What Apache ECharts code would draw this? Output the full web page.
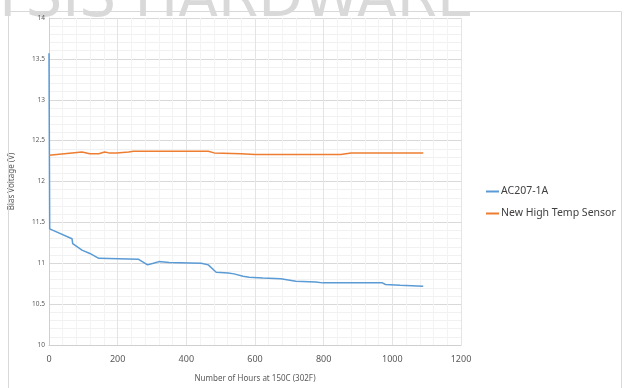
<!DOCTYPE html>
<html><head><meta charset="utf-8">
<script src="https://cdn.jsdelivr.net/npm/echarts@6/dist/echarts.min.js"></script>
<style>html,body{margin:0;padding:0;background:#fff}#c{width:624px;height:388px}</style>
</head><body><div id="c"></div>
<script>
const xTicks = [0, 200, 400, 600, 800, 1000, 1200];
const yTicks = [10, 10.5, 11, 11.5, 12, 12.5, 13, 13.5, 14];
const seriesNames = ['AC207-1A', 'New High Temp Sensor'];
const acHours = [0, 2, 67, 69, 96, 119, 145, 260, 287, 304, 320, 350, 443, 464, 487, 522, 539, 565, 583, 623, 675, 719, 777, 797, 971, 980, 1023, 1090];
const acVolts = [13.57, 11.42, 11.30, 11.24, 11.16, 11.12, 11.06, 11.05, 10.98, 11.00, 11.02, 11.01, 11.00, 10.98, 10.89, 10.88, 10.87, 10.84, 10.83, 10.82, 10.81, 10.78, 10.77, 10.76, 10.76, 10.74, 10.73, 10.72];
const htHours = [0, 2, 67, 96, 119, 145, 162, 174, 197, 232, 246, 464, 481, 559, 600, 850, 880, 1090];
const htVolts = [12.32, 12.33, 12.35, 12.36, 12.34, 12.34, 12.36, 12.35, 12.35, 12.36, 12.37, 12.37, 12.35, 12.34, 12.33, 12.33, 12.35, 12.35];

const chart = echarts.init(document.getElementById('c'), null, {renderer: 'canvas'});
const font = 'Noto Sans';
chart.setOption({
  animation: false,
  backgroundColor: '#fff',
  graphic: [
    {type: 'text', left: -10, top: -28, silent: true, z: 0,
     style: {text: 'YSIS HARDWARE', fill: '#d9d9d9', font: '58px "DejaVu Sans"'}},
    {type: 'rect', shape: {x: 8.5, y: 11.5, width: 613, height: 380}, silent: true, z: 1,
     style: {fill: 'none', stroke: '#d9d9d9', lineWidth: 1}}
  ],
  grid: {left: 47, right: 163, top: 18, bottom: 43},
  legend: {
    orient: 'vertical', left: 481, top: 181, itemWidth: 13, itemHeight: 2, itemGap: 11,
    icon: 'rect',
    textStyle: {fontFamily: font, fontSize: 10.5, color: '#404040', padding: [0, 0, 0, -3]},
    data: seriesNames
  },
  xAxis: {
    type: 'value', min: xTicks[0], max: xTicks[xTicks.length - 1], interval: 200,
    name: 'Number of Hours at 150C (302F)', nameLocation: 'middle', nameGap: 30,
    nameTextStyle: {fontFamily: font, fontSize: 8, color: '#595959'},
    axisLine: {show: true, lineStyle: {color: '#d0d0d0'}},
    axisTick: {show: false},
    axisLabel: {fontFamily: font, fontSize: 9, color: '#595959', margin: 10, formatter: v => String(v)},
    splitLine: {show: true, lineStyle: {color: '#e4e4e4'}},
    minorTick: {show: false, splitNumber: 5},
    minorSplitLine: {show: true, lineStyle: {color: '#f3f3f3'}}
  },
  yAxis: {
    type: 'value', min: yTicks[0], max: yTicks[yTicks.length - 1], interval: 0.5,
    name: 'Bias Voltage (V)', nameLocation: 'middle', nameGap: 33,
    nameTextStyle: {fontFamily: font, fontSize: 8, color: '#595959'},
    axisLine: {show: true, lineStyle: {color: '#d0d0d0'}},
    axisTick: {show: false},
    axisLabel: {fontFamily: font, fontSize: 6.5, color: '#595959', margin: 4, formatter: v => String(v)},
    splitLine: {show: true, lineStyle: {color: '#d9d9d9'}},
    minorTick: {show: false, splitNumber: 5},
    minorSplitLine: {show: true, lineStyle: {color: '#f1f1f1'}}
  },
  series: [
    {name: seriesNames[0], type: 'line', showSymbol: false, symbol: 'none',
     data: acHours.map((h, i) => [h, acVolts[i]]),
     lineStyle: {color: '#5b9bd5', width: 1.5}, itemStyle: {color: '#5b9bd5'}, z: 3},
    {name: seriesNames[1], type: 'line', showSymbol: false, symbol: 'none',
     data: htHours.map((h, i) => [h, htVolts[i]]),
     lineStyle: {color: '#ed7d31', width: 1.5}, itemStyle: {color: '#ed7d31'}, z: 3}
  ]
});
</script></body></html>
